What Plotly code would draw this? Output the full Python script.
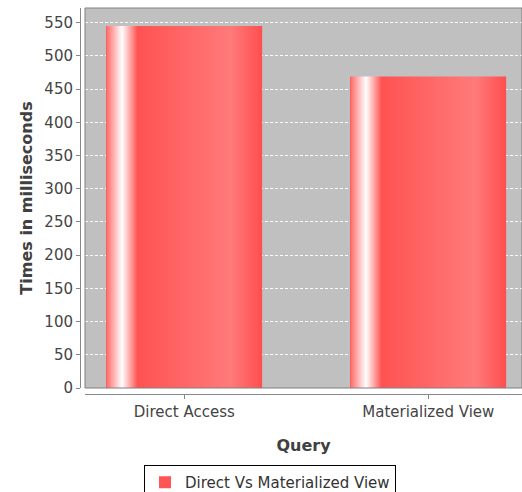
import plotly.graph_objects as go

categories = ["Direct Access", "Materialized View"]
times_ms = [545, 469]
series_name = "Direct Vs Materialized View"
x_title = "Query"
y_title = "Times in milliseconds"

W, H = 522, 492
BAR_W = 0.638
idx = list(range(len(categories)))

fig = go.Figure()
fig.add_trace(go.Bar(
    x=idx, y=times_ms, width=BAR_W, name=series_name,
    marker=dict(color="#FF5555", line=dict(width=0)), hoverinfo="skip"))

grad = [[0, "#FF6A6A"], [0.1, "#FFFFFF"], [0.2, "#FF5252"],
        [0.8, "#FF7A7A"], [1, "#FF4E4E"]]
for i, v in zip(idx, times_ms):
    x0, x1 = i - BAR_W / 2, i + BAR_W / 2
    fig.add_trace(go.Scatter(
        x=[x0, x1, x1, x0, x0], y=[0, 0, v, v, 0], fill="toself",
        fillgradient=dict(type="horizontal", colorscale=grad),
        line=dict(width=0), mode="lines", showlegend=False, hoverinfo="skip"))

px_per_cat = 244.0
c0 = 184.3
x_dom = [85 / W, 1.0]
y_dom = [1 - 388 / H, 1 - 8 / H]

font_tick = dict(family="DejaVu Sans", size=15, color="#444444")
font_title = dict(family="DejaVu Sans", size=16, color="#404040")

fig.update_layout(
    width=W, height=H, autosize=False,
    margin=dict(l=0, r=0, t=0, b=0, autoexpand=False),
    paper_bgcolor="white", plot_bgcolor="#C0C0C0",
    bargap=0,
    xaxis=dict(
        domain=x_dom,
        range=[(85 - c0) / px_per_cat, (W - c0) / px_per_cat],
        tickvals=idx, ticktext=categories,
        anchor="free", position=1 - 394 / H,
        showline=True, linecolor="#888888", linewidth=1,
        ticks="outside", ticklen=4, tickcolor="#888888",
        showgrid=False, zeroline=False, tickfont=font_tick,
        title=dict(text="<b>%s</b>" % x_title, font=font_title, standoff=19),
    ),
    yaxis=dict(
        domain=y_dom,
        range=[0, max(times_ms) * 1.05],
        dtick=50, tick0=0,
        anchor="free", position=80 / W,
        showline=True, linecolor="#888888", linewidth=1,
        ticks="outside", ticklen=4, tickcolor="#888888",
        showgrid=True, gridcolor="white", gridwidth=1, griddash="3px,2px",
        zeroline=False, tickfont=font_tick,
        title=dict(text="<b>%s</b>" % y_title, font=font_title, standoff=6),
    ),
    legend=dict(
        orientation="h", x=270 / W, xanchor="center",
        y=1 - 465 / H, yanchor="top", itemwidth=30,
        bordercolor="black", borderwidth=1, bgcolor="white",
        font=dict(family="DejaVu Sans", size=15, color="#333333"),
    ),
    shapes=[dict(type="rect", xref="paper", yref="paper",
                 x0=x_dom[0], x1=x_dom[1], y0=y_dom[0], y1=y_dom[1],
                 line=dict(color="#808080", width=1), layer="above")],
)

fig.write_html("out.html", config={"displayModeBar": False},
               post_script="document.body.style.margin='0';")
